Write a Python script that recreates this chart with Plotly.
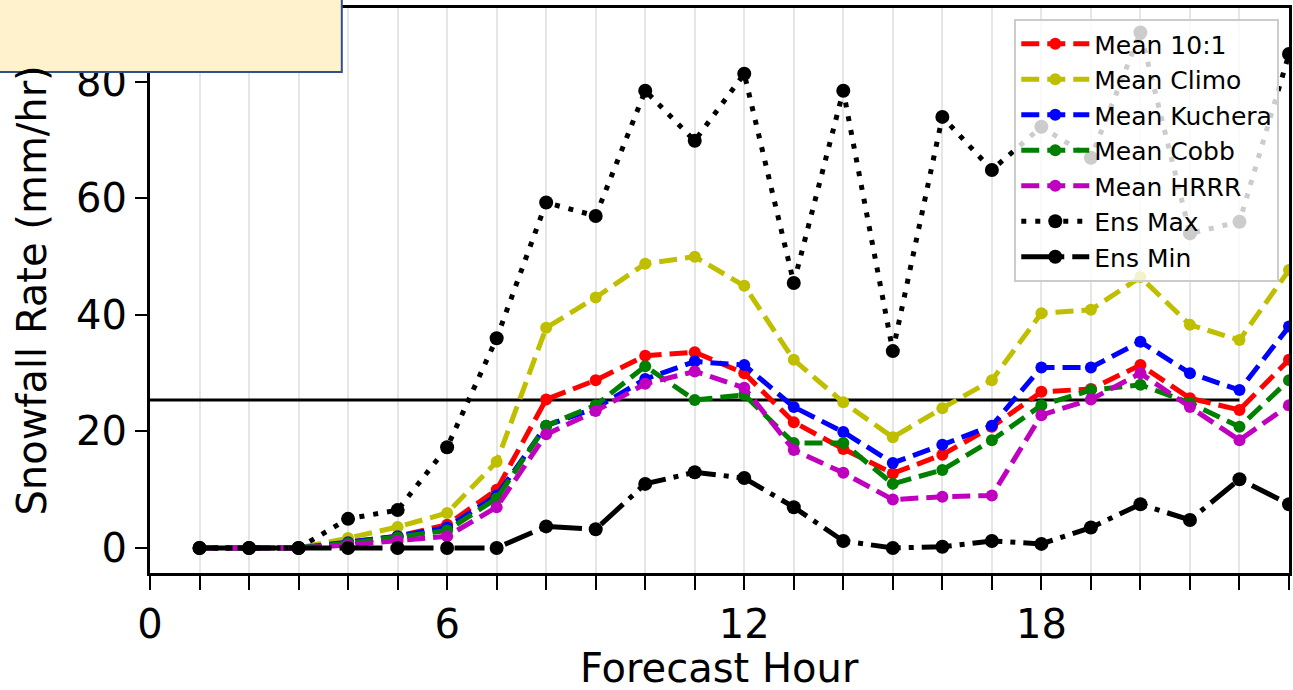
import plotly.graph_objects as go

hours = list(range(1, 24))

mean_101 = [0, 0, 0, 1.0, 2.0, 4.0, 10.0, 25.5, 28.8, 33.0, 33.6, 30.0, 21.6, 17.0, 12.8, 16.0, 20.8, 26.8, 27.3, 31.4, 25.7, 23.7, 32.3]
mean_climo = [0, 0, 0, 1.7, 3.6, 6.0, 14.8, 37.8, 43.0, 48.8, 50.0, 45.0, 32.3, 25.0, 19.0, 24.0, 28.8, 40.3, 40.9, 46.5, 38.3, 35.7, 47.7]
mean_kuchera = [0, 0, 0, 1.0, 2.0, 3.5, 9.0, 21.0, 24.0, 29.0, 32.0, 31.4, 24.2, 19.9, 14.6, 17.7, 21.0, 31.0, 31.0, 35.4, 30.0, 27.1, 38.0]
mean_cobb = [0, 0, 0, 0.8, 1.8, 3.0, 8.5, 21.0, 24.5, 31.2, 25.4, 26.3, 18.0, 18.0, 11.0, 13.4, 18.5, 24.5, 27.1, 28.0, 24.9, 20.8, 28.8]
mean_hrrr = [0, 0, 0, 0.5, 1.2, 2.0, 7.0, 19.5, 23.5, 28.2, 30.3, 27.5, 16.8, 12.9, 8.3, 8.8, 9.0, 22.8, 25.5, 30.0, 24.2, 18.5, 24.5]
ens_max = [0, 0, 0, 5.0, 6.5, 17.3, 36.0, 59.3, 57.0, 78.5, 69.9, 81.4, 45.5, 78.5, 33.8, 74.0, 64.9, 72.3, 67.0, 88.5, 54.0, 56.0, 84.8]
ens_min = [0, 0, 0, 0, 0, 0, 0, 3.7, 3.2, 11.0, 13.0, 12.0, 7.0, 1.2, 0, 0.2, 1.2, 0.7, 3.5, 7.5, 4.8, 11.8, 7.5]

threshold_x = [0, 22]
threshold_y = [25.4, 25.4]

x_tick_vals = list(range(0, 24))
x_tick_text = [str(h) if h % 6 == 0 else "" for h in x_tick_vals]
y_tick_vals = [0, 20, 40, 60, 80]

FONT = "DejaVu Sans"

series = [
    ("Mean 10:1", mean_101, "#ff0000", "18px,8px", 12),
    ("Mean Climo", mean_climo, "#bfbf00", "18px,8px", 12),
    ("Mean Kuchera", mean_kuchera, "#0000ff", "18px,8px", 12),
    ("Mean Cobb", mean_cobb, "#008000", "18px,8px", 12),
    ("Mean HRRR", mean_hrrr, "#bf00bf", "18px,8px", 12),
    ("Ens Max", ens_max, "#000000", "5px,9px", 14),
    ("Ens Min", ens_min, "#000000", "30px,8px,5px,8px", 14),
]

fig = go.Figure()
fig.add_trace(go.Scatter(x=threshold_x, y=threshold_y, mode="lines",
                         line=dict(color="black", width=3), showlegend=False,
                         hoverinfo="skip"))
for i, (name, vals, color, dash, msize) in enumerate(series):
    fig.add_trace(go.Scatter(
        x=hours, y=vals, name=name, mode="lines+markers",
        line=dict(color=color, width=5, dash=dash),
        marker=dict(color=color, size=msize, symbol="circle"),
        legendgroup=f"g{i}",
    ))

fig.update_layout(
    width=1293, height=690, autosize=False,
    margin=dict(l=150, r=4, t=8, b=117),
    paper_bgcolor="white", plot_bgcolor="white",
    font=dict(family=FONT, size=40, color="black"),
    showlegend=True,
    legend=dict(
        x=0.7588, y=0.9805, xanchor="left", yanchor="top",
        bgcolor="rgba(255,255,255,0.8)", bordercolor="#cccccc", borderwidth=2,
        font=dict(family=FONT, size=25, color="black"),
        tracegroupgap=4, traceorder="normal", itemwidth=68,
    ),
    xaxis=dict(
        range=[0, 23], tickmode="array", tickvals=x_tick_vals, ticktext=x_tick_text,
        ticks="outside", ticklen=14, tickwidth=2, tickcolor="black",
        showgrid=True, gridcolor="#e6e6e6", gridwidth=2,
        showline=True, linecolor="black", linewidth=3, mirror=True,
        zeroline=False, automargin=False,
        tickfont=dict(family=FONT, size=40),
    ),
    yaxis=dict(
        range=[-4.3, 92.7], tickmode="array", tickvals=y_tick_vals,
        ticks="outside", ticklen=12, tickwidth=2, tickcolor="black",
        showgrid=False, zeroline=False, automargin=False,
        showline=True, linecolor="black", linewidth=3, mirror=True,
        tickfont=dict(family=FONT, size=40),
    ),
    annotations=[
        dict(text="Forecast Hour", xref="paper", yref="paper", x=0.5, y=-0.168,
             xanchor="center", yanchor="middle", showarrow=False,
             font=dict(family=FONT, size=40, color="black")),
        dict(text="Snowfall Rate (mm/hr)", xref="paper", yref="paper", x=-0.1044, y=0.5,
             xanchor="center", yanchor="middle", showarrow=False, textangle=-90,
             font=dict(family=FONT, size=40, color="black")),
    ],
    shapes=[dict(
        type="rect", xref="paper", yref="paper",
        x0=-0.135, x1=0.1684, y0=0.8867, y1=1.03,
        fillcolor="#fff2cc", line=dict(color="#2f528f", width=2), layer="above",
    )],
)

fig.write_html("out.html", config={"displayModeBar": False},
               post_script="document.body.style.margin='0px';")
